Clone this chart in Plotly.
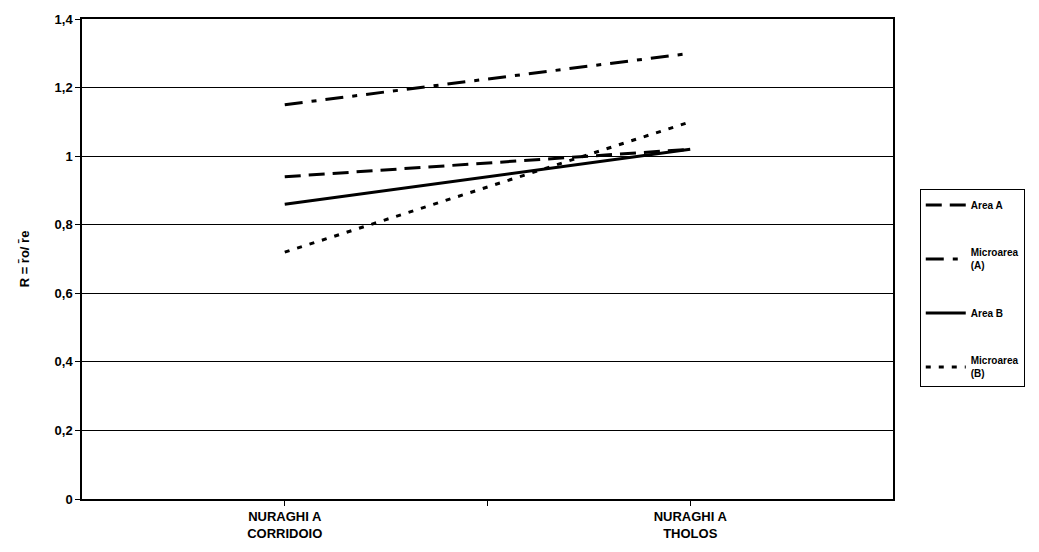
import plotly.graph_objects as go

categories = ["NURAGHI A<br>CORRIDOIO", "NURAGHI A<br>THOLOS"]
area_a = [0.94, 1.02]
micro_a = [1.15, 1.30]
area_b = [0.86, 1.02]
micro_b = [0.72, 1.10]

series = [
    ("Area A", area_a, "16px,8px"),
    ("Microarea<br>(A)", micro_a, "18px,9px,5px,9px"),
    ("Area B", area_b, "solid"),
    ("Microarea<br>(B)", micro_b, "5px,8px"),
]

xpos = list(range(len(categories)))
fig = go.Figure()
for i, (name, vals, dash) in enumerate(series):
    fig.add_trace(go.Scatter(
        x=xpos, y=vals, mode="lines", name=name,
        legendgroup=f"g{i}",
        line=dict(color="black", width=3, dash=dash),
    ))

fnt = dict(family="Liberation Sans, Arial, sans-serif", size=13, color="black", weight="bold")

fig.update_layout(
    width=1031, height=544,
    paper_bgcolor="white", plot_bgcolor="white",
    margin=dict(l=74, r=146, t=11, b=53, autoexpand=False),
    separators=", ",
    showlegend=True,
    legend=dict(
        x=1.033, y=0.645, xanchor="left", yanchor="top",
        bordercolor="black", borderwidth=1,
        font=dict(family="Liberation Sans, Arial, sans-serif", size=10, color="black", weight="bold"),
        tracegroupgap=30, itemwidth=40,
    ),
    xaxis=dict(
        range=[-0.5, 1.5], tickvals=[0, 0.5, 1], ticktext=[categories[0], "", categories[1]],
        showgrid=False, zeroline=False, showline=True, linecolor="black", linewidth=1.5,
        mirror=True, ticks="outside", ticklen=5, tickcolor="black",
        tickfont=fnt, automargin=False,
    ),
    yaxis=dict(
        range=[0, 1.4], dtick=0.2, showgrid=True, gridcolor="black", gridwidth=1,
        zeroline=False, showline=True, linecolor="black", linewidth=1.5, mirror=True,
        ticks="outside", ticklen=5, tickcolor="black", tickfont=fnt, automargin=False,
        title=dict(text="R = r\u0304o/ r\u0304e", font=dict(family="Liberation Sans, Arial, sans-serif", size=13, color="black", weight="bold"), standoff=22),
    ),
)

fig.write_html("out.html")
